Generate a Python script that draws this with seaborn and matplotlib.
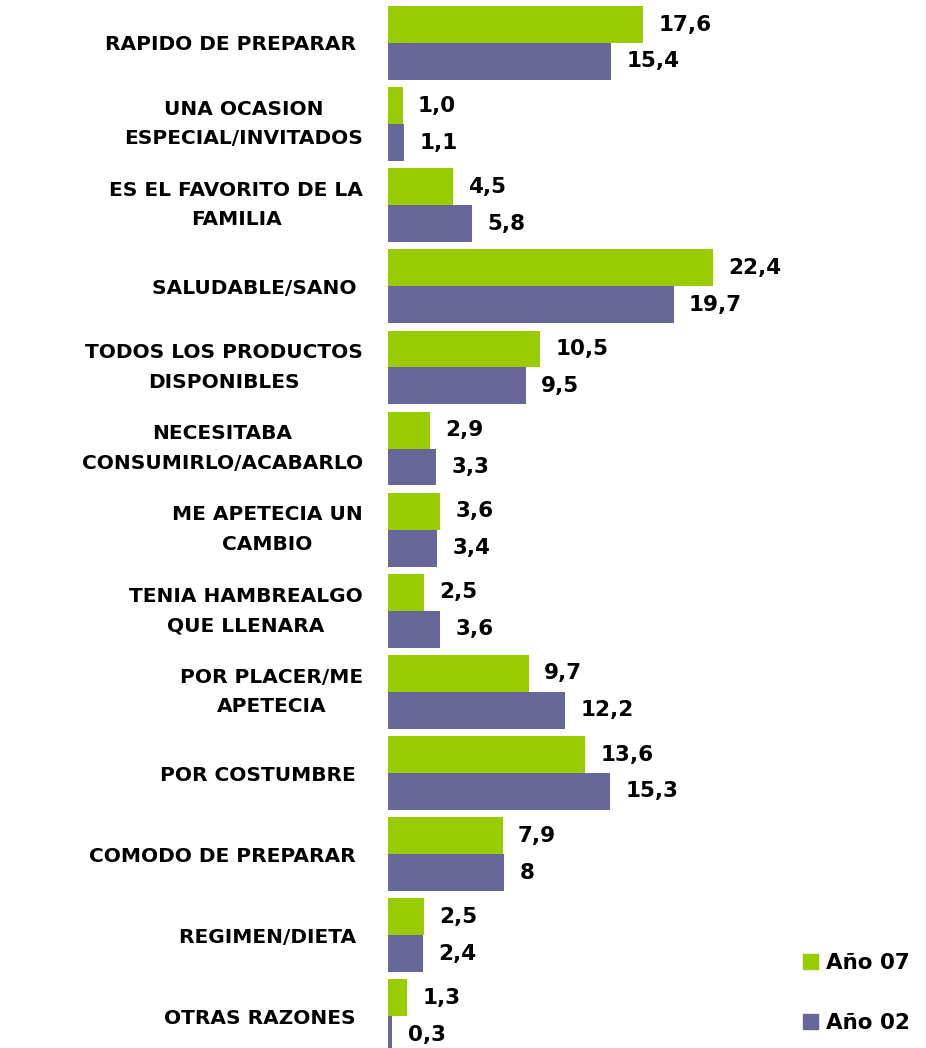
import numpy as np
import pandas as pd
import matplotlib
matplotlib.use('Agg')
import matplotlib.pyplot as plt
import seaborn as sns

razones = ['RAPIDO DE PREPARAR ', 'UNA OCASION\nESPECIAL/INVITADOS', 'ES EL FAVORITO DE LA\nFAMILIA',
           'SALUDABLE/SANO ', 'TODOS LOS PRODUCTOS\nDISPONIBLES', 'NECESITABA\nCONSUMIRLO/ACABARLO',
           'ME APETECIA UN\nCAMBIO', 'TENIA HAMBREALGO\nQUE LLENARA', 'POR PLACER/ME\nAPETECIA',
           'POR COSTUMBRE ', 'COMODO DE PREPARAR ', 'REGIMEN/DIETA ', 'OTRAS RAZONES ']
anio07 = [17.6, 1.0, 4.5, 22.4, 10.5, 2.9, 3.6, 2.5, 9.7, 13.6, 7.9, 2.5, 1.3]
anio02 = [15.4, 1.1, 5.8, 19.7, 9.5, 3.3, 3.4, 3.6, 12.2, 15.3, 8, 2.4, 0.3]
series = ['Año 07', 'Año 02']
colores = ['#99cc00', '#666699']

df = pd.DataFrame({
    'razon': razones * 2,
    'valor': anio07 + anio02,
    'serie': [series[0]] * len(razones) + [series[1]] * len(razones),
})


def fmt(v):
    # el original muestra "8" sin decimal
    if isinstance(v, int):
        return str(v)
    return '{:.1f}'.format(v).replace('.', ',')


plt.rcParams['font.family'] = ['DejaVu Sans']
fig = plt.figure(figsize=(9.26, 10.48), dpi=100)
ax = fig.add_axes([388 / 926, 0, 1 - 388 / 926, 1])

sns.barplot(data=df, x='valor', y='razon', hue='serie', palette=colores, orient='h',
            width=0.91, saturation=1, ax=ax, legend=False)

for cont, vals in zip(ax.containers, [anio07, anio02]):
    ax.bar_label(cont, labels=[fmt(v) for v in vals], padding=11,
                 fontsize=15.5, fontweight='bold', color='black')

ax.set_xlim(0, 538 / 14.5)
ax.set_ylim(12.39, -0.53)
ax.set_xlabel('')
ax.set_ylabel('')
ax.set_xticks([])
for s in ax.spines.values():
    s.set_visible(False)
ax.tick_params(axis='y', length=0, pad=18)
for lab in ax.get_yticklabels():
    lab.set_fontsize(14.5)
    lab.set_fontweight('bold')
    lab.set_multialignment('center')
    lab.set_linespacing(1.7)
    if '\n' in lab.get_text():
        lab.set_va('center')

handles = [plt.Rectangle((0, 0), 1, 1, color=c) for c in colores]
fig.legend(handles, series, loc='upper left', bbox_to_anchor=(784 / 926, 1 - 934 / 1048),
           frameon=False, handlelength=0.7, handleheight=0.7, handletextpad=0.35,
           labelspacing=1.85, prop={'size': 15.5, 'weight': 'bold'})

fig.savefig('out.png', dpi=100)
